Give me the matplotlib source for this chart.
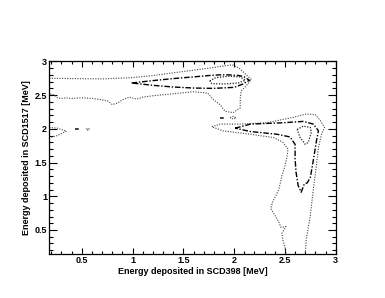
import matplotlib
matplotlib.use("Agg")
import matplotlib.pyplot as plt
from matplotlib.ticker import MultipleLocator, FuncFormatter

# ---- contour lines (data coordinates, MeV) ----
# level 1 (outer, dotted)
top_outer_x = [0.18, 0.4, 0.7, 1.0, 1.2, 1.4, 1.6, 1.8, 1.98, 2.05, 2.12, 2.17, 2.12, 2.07, 2.06, 2.06,
               1.99, 1.91, 1.86, 1.79, 1.74, 1.6, 1.4, 1.2, 1.1, 1.04, 0.97, 0.9, 0.85, 0.8, 0.76,
               0.7, 0.61, 0.5, 0.4, 0.35, 0.3, 0.26, 0.23, 0.2, 0.18]
top_outer_y = [2.75, 2.745, 2.74, 2.76, 2.79, 2.83, 2.87, 2.91, 2.95, 2.9, 2.80, 2.73, 2.64, 2.56, 2.45, 2.31,
               2.24, 2.26, 2.36, 2.44, 2.53, 2.55, 2.52, 2.49, 2.47, 2.44, 2.47, 2.43, 2.38, 2.36, 2.41,
               2.43, 2.45, 2.46, 2.45, 2.46, 2.45, 2.46, 2.5, 2.52, 2.5]

l_outer_x = [2.51, 2.50, 2.48, 2.47, 2.49, 2.51, 2.46, 2.44, 2.40, 2.36, 2.38, 2.44, 2.47, 2.50, 2.52,
             2.53, 2.48, 2.39, 2.16, 1.89, 1.78, 1.86, 2.06, 2.32, 2.58, 2.71, 2.80, 2.85, 2.89,
             2.86, 2.83, 2.81, 2.78, 2.75, 2.71, 2.70]
l_outer_y = [0.15, 0.25, 0.35, 0.45, 0.50, 0.55, 0.54, 0.62, 0.72, 0.82, 0.92, 1.1, 1.3, 1.45, 1.58,
             1.70, 1.80, 1.87, 1.92, 1.97, 2.03, 2.07, 2.07, 2.09, 2.17, 2.22, 2.21, 2.12, 2.02,
             1.92, 1.72, 1.45, 1.11, 0.71, 0.37, 0.15]

left_blob_x = [0.18, 0.26, 0.30, 0.35, 0.30, 0.26, 0.18]
left_blob_y = [2.02, 2.01, 1.99, 1.965, 1.93, 1.90, 1.87]

spot_a_x = [0.545, 0.56, 0.575, 0.56, 0.545]
spot_a_y = [1.995, 2.01, 1.995, 1.98, 1.995]
spot_b_x = [0.445, 0.46, 0.445]
spot_b_y = [1.995, 1.995, 1.995]
spot_c_x = [1.96, 1.99, 2.02, 1.99, 1.96]
spot_c_y = [2.165, 2.185, 2.165, 2.145, 2.165]
spot_d_x = [1.875, 1.89, 1.875]
spot_d_y = [2.165, 2.165, 2.165]

# level 2 (dash-dot)
top_mid_x = [0.99, 1.2, 1.4, 1.6, 1.75, 1.85, 1.95, 2.05, 2.1, 2.15, 2.08, 2.0, 1.8, 1.6, 1.4, 1.2, 0.99]
top_mid_y = [2.68, 2.715, 2.745, 2.77, 2.79, 2.80, 2.80, 2.79, 2.77, 2.72, 2.66, 2.615, 2.60, 2.605, 2.62, 2.645, 2.68]

l_mid_x = [2.01, 2.16, 2.48, 2.68, 2.78, 2.83, 2.81, 2.79, 2.77, 2.75, 2.72, 2.69, 2.66, 2.63, 2.61,
           2.60, 2.60, 2.55, 2.42, 2.16, 2.01]
l_mid_y = [2.01, 2.07, 2.09, 2.11, 2.07, 1.97, 1.82, 1.63, 1.45, 1.28, 1.20, 1.18, 1.06, 1.16, 1.35,
           1.55, 1.77, 1.88, 1.92, 1.96, 2.01]

# level 3 (inner, dotted)
top_in_x = [1.76, 1.82, 1.95, 2.06, 2.11, 2.04, 1.9, 1.78, 1.76]
top_in_y = [2.71, 2.76, 2.78, 2.77, 2.72, 2.68, 2.665, 2.67, 2.71]

l_in_x = [2.62, 2.68, 2.75, 2.76, 2.73, 2.70, 2.65, 2.62]
l_in_y = [1.99, 2.04, 2.02, 1.95, 1.80, 1.77, 1.87, 1.99]

x_range = [0.18, 3.0]
y_range = [0.15, 3.0]
x_label = "Energy deposited in SCD398 [MeV]"
y_label = "Energy deposited in SCD1517 [MeV]"

plt.rcParams['font.family'] = ['Liberation Sans', 'DejaVu Sans']

fig = plt.figure(figsize=(3.85, 2.98), dpi=100)
ax = fig.add_axes([0.128, 0.149, 0.744, 0.645])

dot_style = dict(color='#444444', lw=0.8, ls=(0, (1, 1.3)))
dd_style = dict(color='black', lw=1.0, ls=(0, (4, 1.3, 1, 1.3)))
in_style = dict(color='#222222', lw=0.9, ls=(0, (1, 1.2)))

for xs, ys in [(top_outer_x, top_outer_y), (l_outer_x, l_outer_y), (left_blob_x, left_blob_y),
               (spot_a_x, spot_a_y), (spot_c_x, spot_c_y)]:
    ax.plot(xs, ys, **dot_style)
for xs, ys in [(spot_b_x, spot_b_y), (spot_d_x, spot_d_y)]:
    ax.plot(xs, ys, color='#444444', lw=1.1)
for xs, ys in [(top_mid_x, top_mid_y), (l_mid_x, l_mid_y)]:
    ax.plot(xs, ys, **dd_style)
for xs, ys in [(top_in_x, top_in_y), (l_in_x, l_in_y)]:
    ax.plot(xs, ys, **in_style)

ax.set_xlim(*x_range)
ax.set_ylim(*y_range)
ax.xaxis.set_major_locator(MultipleLocator(0.5))
ax.xaxis.set_minor_locator(MultipleLocator(0.1))
ax.yaxis.set_major_locator(MultipleLocator(0.5))
ax.yaxis.set_minor_locator(MultipleLocator(0.1))
fmt = FuncFormatter(lambda v, p: f"{v:g}")
ax.xaxis.set_major_formatter(fmt)
ax.yaxis.set_major_formatter(fmt)

ax.tick_params(which='both', direction='in', top=True, right=True, width=0.8, labelsize=6.5, pad=1.5)
ax.tick_params(axis='x', which='major', length=4.3)
ax.tick_params(axis='x', which='minor', length=2.0)
ax.tick_params(axis='y', which='major', length=5.8)
ax.tick_params(axis='y', which='minor', length=2.9)
for lab in ax.get_xticklabels() + ax.get_yticklabels():
    lab.set_fontweight('bold')
for s in ax.spines.values():
    s.set_linewidth(0.9)

ax.set_xlabel(x_label, fontsize=6.5, fontweight='bold', labelpad=1.5)
ax.set_ylabel(y_label, fontsize=6.5, fontweight='bold', labelpad=3)

fig.savefig("out.png", dpi=100)
